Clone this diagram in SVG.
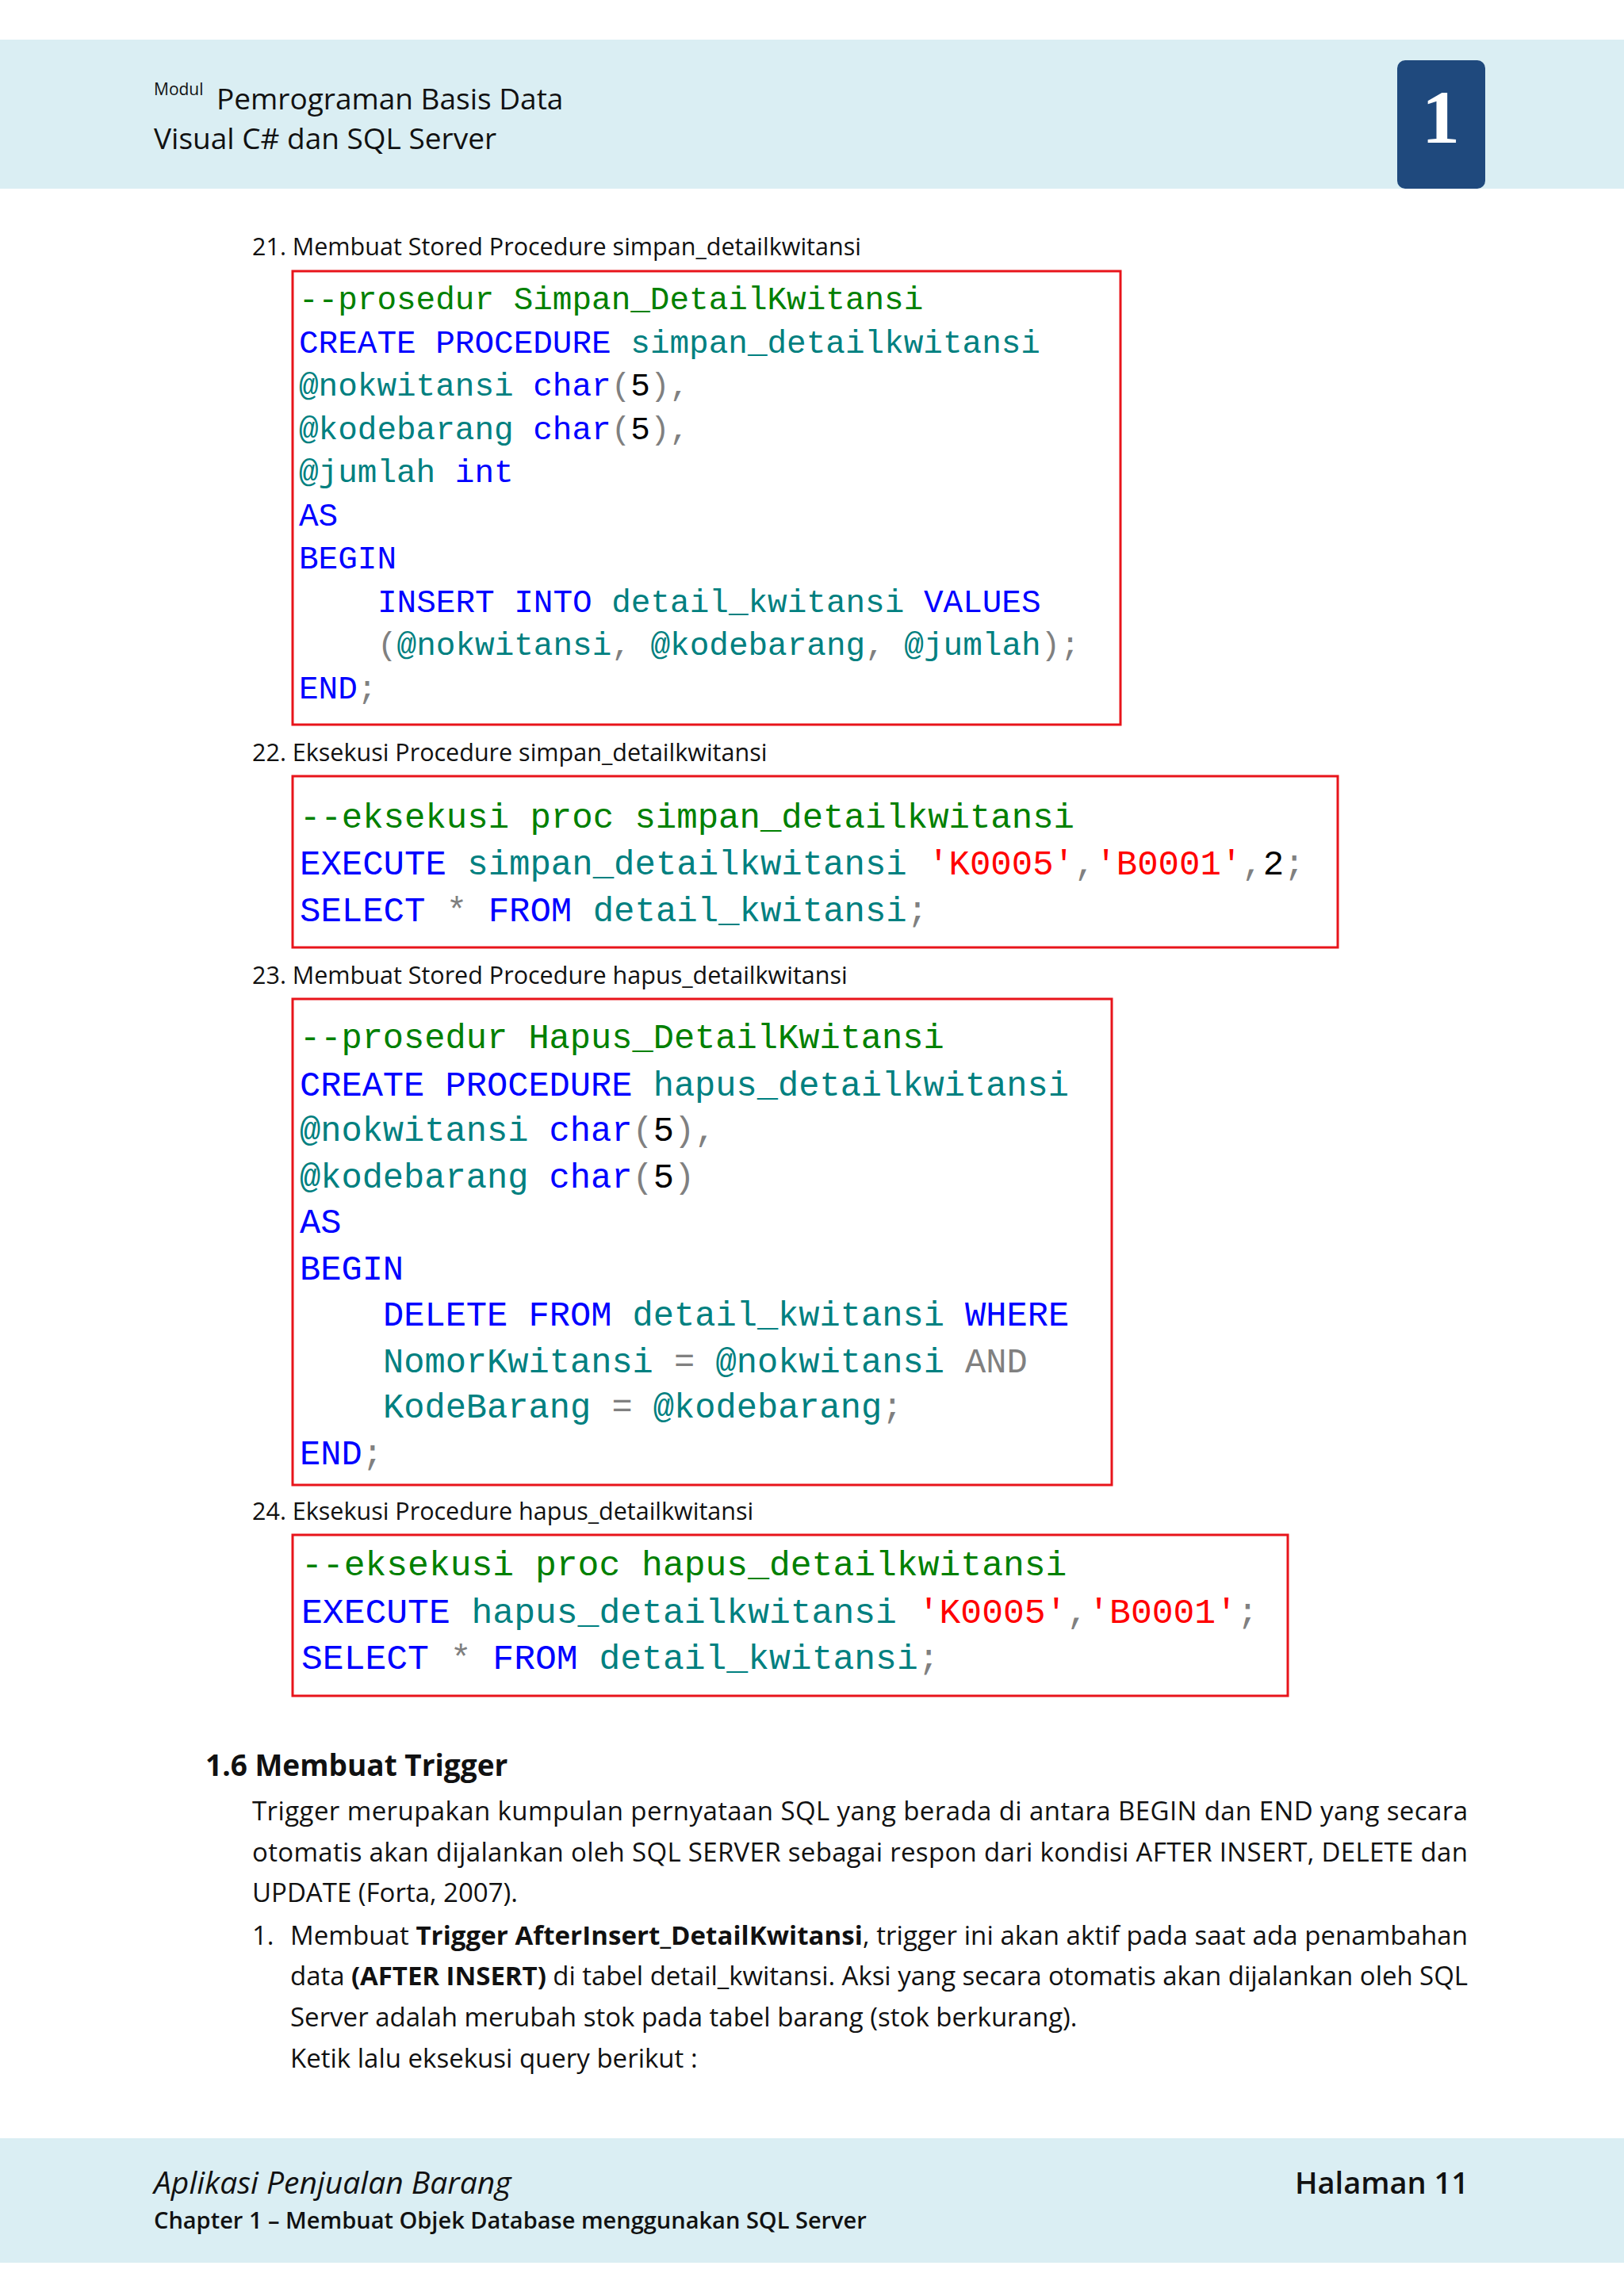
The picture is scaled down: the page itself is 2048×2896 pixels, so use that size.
<svg xmlns="http://www.w3.org/2000/svg" width="2048" height="2896" viewBox="0 0 2048 2896">
<style>
.t{font-family:"Open Sans","Noto Sans",sans-serif;fill:#111}
.c{font-family:"Liberation Mono","DejaVu Sans Mono",monospace}
.k{fill:#0000FF}.g{fill:#008000}.tl{fill:#008080}.p{fill:#808080}.r{fill:#FF0000}.b{fill:#000}
.box{fill:#fff;stroke:#E8141B;stroke-width:3}
</style>
<rect width="2048" height="2896" fill="#fff"/>
<g id="header">
<rect x="0" y="50" width="2048" height="188" fill="#DAEEF3"/>
<rect x="1762" y="76" width="111" height="162" rx="10" fill="#1F497D"/>
<text x="1817" y="180" font-family="Liberation Serif,serif" font-size="96" font-weight="bold" fill="#fff" text-anchor="middle">1</text>
<text class="t" x="194" y="120" font-size="21">Modul</text>
<text class="t" x="273" y="138" font-size="37">Pemrograman Basis Data</text>
<text class="t" x="194" y="188" font-size="37">Visual C# dan SQL Server</text>
</g>
<g id="step21">
<text class="t" x="318" y="322" font-size="30.5">21. Membuat Stored Procedure simpan_detailkwitansi</text>
<rect class="box" x="369" y="342" width="1044" height="572"/>
<g class="c" font-size="41" xml:space="preserve">
<text x="377" y="390" class="g">--prosedur Simpan_DetailKwitansi</text>
<text x="377" y="445"><tspan class="k">CREATE PROCEDURE</tspan><tspan class="tl"> simpan_detailkwitansi</tspan></text>
<text x="377" y="499"><tspan class="tl">@nokwitansi </tspan><tspan class="k">char</tspan><tspan class="p">(</tspan><tspan class="b">5</tspan><tspan class="p">),</tspan></text>
<text x="377" y="554"><tspan class="tl">@kodebarang </tspan><tspan class="k">char</tspan><tspan class="p">(</tspan><tspan class="b">5</tspan><tspan class="p">),</tspan></text>
<text x="377" y="608"><tspan class="tl">@jumlah </tspan><tspan class="k">int</tspan></text>
<text x="377" y="663" class="k">AS</text>
<text x="377" y="717" class="k">BEGIN</text>
<text x="476" y="772"><tspan class="k">INSERT INTO</tspan><tspan class="tl"> detail_kwitansi </tspan><tspan class="k">VALUES</tspan></text>
<text x="476" y="826"><tspan class="p">(</tspan><tspan class="tl">@nokwitansi</tspan><tspan class="p">, </tspan><tspan class="tl">@kodebarang</tspan><tspan class="p">, </tspan><tspan class="tl">@jumlah</tspan><tspan class="p">);</tspan></text>
<text x="377" y="881"><tspan class="k">END</tspan><tspan class="p">;</tspan></text>
</g>
</g>
<g id="step22">
<text class="t" x="318" y="960" font-size="30.5">22. Eksekusi Procedure simpan_detailkwitansi</text>
<rect class="box" x="369" y="979" width="1318" height="216"/>
<g class="c" font-size="44" xml:space="preserve">
<text x="378" y="1044" class="g">--eksekusi proc simpan_detailkwitansi</text>
<text x="378" y="1103"><tspan class="k">EXECUTE</tspan><tspan class="tl"> simpan_detailkwitansi </tspan><tspan class="r">'K0005'</tspan><tspan class="p">,</tspan><tspan class="r">'B0001'</tspan><tspan class="p">,</tspan><tspan class="b">2</tspan><tspan class="p">;</tspan></text>
<text x="378" y="1162"><tspan class="k">SELECT</tspan><tspan class="p"> * </tspan><tspan class="k">FROM</tspan><tspan class="tl"> detail_kwitansi</tspan><tspan class="p">;</tspan></text>
</g>
</g>
<g id="step23">
<text class="t" x="318" y="1241" font-size="30.5">23. Membuat Stored Procedure hapus_detailkwitansi</text>
<rect class="box" x="369" y="1260" width="1033" height="613"/>
<g class="c" font-size="43.7" xml:space="preserve">
<text x="378" y="1322" class="g">--prosedur Hapus_DetailKwitansi</text>
<text x="378" y="1382"><tspan class="k">CREATE PROCEDURE</tspan><tspan class="tl"> hapus_detailkwitansi</tspan></text>
<text x="378" y="1439"><tspan class="tl">@nokwitansi </tspan><tspan class="k">char</tspan><tspan class="p">(</tspan><tspan class="b">5</tspan><tspan class="p">),</tspan></text>
<text x="378" y="1498"><tspan class="tl">@kodebarang </tspan><tspan class="k">char</tspan><tspan class="p">(</tspan><tspan class="b">5</tspan><tspan class="p">)</tspan></text>
<text x="378" y="1555" class="k">AS</text>
<text x="378" y="1614" class="k">BEGIN</text>
<text x="483" y="1672"><tspan class="k">DELETE FROM</tspan><tspan class="tl"> detail_kwitansi </tspan><tspan class="k">WHERE</tspan></text>
<text x="483" y="1731"><tspan class="tl">NomorKwitansi </tspan><tspan class="p">=</tspan><tspan class="tl"> @nokwitansi </tspan><tspan class="p">AND</tspan></text>
<text x="483" y="1788"><tspan class="tl">KodeBarang </tspan><tspan class="p">=</tspan><tspan class="tl"> @kodebarang</tspan><tspan class="p">;</tspan></text>
<text x="378" y="1847"><tspan class="k">END</tspan><tspan class="p">;</tspan></text>
</g>
</g>
<g id="step24">
<text class="t" x="318" y="1917" font-size="30.5">24. Eksekusi Procedure hapus_detailkwitansi</text>
<rect class="box" x="369" y="1936" width="1255" height="203"/>
<g class="c" font-size="44.7" xml:space="preserve">
<text x="380" y="1987" class="g">--eksekusi proc hapus_detailkwitansi</text>
<text x="380" y="2047"><tspan class="k">EXECUTE</tspan><tspan class="tl"> hapus_detailkwitansi </tspan><tspan class="r">'K0005'</tspan><tspan class="p">,</tspan><tspan class="r">'B0001'</tspan><tspan class="p">;</tspan></text>
<text x="380" y="2105"><tspan class="k">SELECT</tspan><tspan class="p"> * </tspan><tspan class="k">FROM</tspan><tspan class="tl"> detail_kwitansi</tspan><tspan class="p">;</tspan></text>
</g>
</g>
<g id="section16">
<text class="t" x="259" y="2240" font-size="37" font-weight="bold">1.6 Membuat Trigger</text>
<text class="t" x="318" y="2296" font-size="33" textLength="1533" lengthAdjust="spacing">Trigger merupakan kumpulan pernyataan SQL yang berada di antara BEGIN dan END yang secara</text>
<text class="t" x="318" y="2348" font-size="33" textLength="1533" lengthAdjust="spacing">otomatis akan dijalankan oleh SQL SERVER sebagai respon dari kondisi AFTER INSERT, DELETE dan</text>
<text class="t" x="318" y="2399" font-size="33">UPDATE (Forta, 2007).</text>
<text class="t" x="318" y="2453" font-size="33">1.</text>
<text class="t" x="366" y="2453" font-size="33" textLength="1485" lengthAdjust="spacing">Membuat <tspan font-weight="bold">Trigger AfterInsert_DetailKwitansi</tspan>, trigger ini akan aktif pada saat ada penambahan</text>
<text class="t" x="366" y="2504" font-size="33" textLength="1485" lengthAdjust="spacing">data <tspan font-weight="bold">(AFTER INSERT)</tspan> di tabel detail_kwitansi. Aksi yang secara otomatis akan dijalankan oleh SQL</text>
<text class="t" x="366" y="2556" font-size="33">Server adalah merubah stok pada tabel barang (stok berkurang).</text>
<text class="t" x="366" y="2608" font-size="33">Ketik lalu eksekusi query berikut :</text>
</g>
<g id="footer">
<rect x="0" y="2697" width="2048" height="157" fill="#DAEEF3"/>
<text class="t" x="194" y="2767" font-size="39" font-style="italic">Aplikasi Penjualan Barang</text>
<text class="t" x="1852" y="2767" font-size="38" font-weight="600" text-anchor="end">Halaman 11</text>
<text class="t" x="194" y="2811" font-size="29" font-weight="600">Chapter 1 – Membuat Objek Database menggunakan SQL Server</text>
</g>
</svg>
